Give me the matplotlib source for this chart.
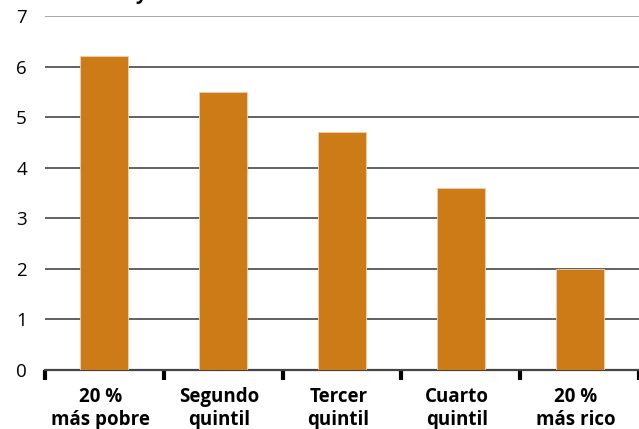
import matplotlib.pyplot as plt
import numpy as np

plt.rcParams['font.family'] = ['Open Sans', 'DejaVu Sans']

categories = ["20 %\nmás pobre", "Segundo\nquintil", "Tercer\nquintil",
              "Cuarto\nquintil", "20 %\nmás rico"]
values = [6.2, 5.5, 4.7, 3.6, 2.0]
yticks = [0, 1, 2, 3, 4, 5, 6, 7]

fig = plt.figure(figsize=(6.39, 4.29), dpi=100)
ax = fig.add_axes([0.0704, 0.1375, 0.9296, 0.8252])

x = np.arange(len(values))
ax.bar(x, values, width=0.405, color="#CC7B16", edgecolor="#F0D0B0",
       linewidth=0.6, zorder=3)

ax.set_xlim(-0.5, len(values) - 0.5)
ax.set_ylim(0, 7)

for yv in yticks[1:]:
    ax.axhline(yv, color="#A0A0A0" if yv == 7 else "#555555",
               linewidth=1.3, zorder=1)

for s in ["top", "right", "left"]:
    ax.spines[s].set_visible(False)
ax.spines["bottom"].set_color("#444444")
ax.spines["bottom"].set_linewidth(1.6)

# ticks sit on the category boundaries, labels under the bars
ax.set_xticks(np.arange(len(values) + 1) - 0.5)
ax.set_xticklabels([])
ax.tick_params(axis="x", which="major", direction="out", length=7, width=3,
               color="black")
ax.set_xticks(x - 0.03, minor=True)
ax.set_xticklabels(categories, minor=True, fontsize=13.5, fontweight="bold",
                   linespacing=1.2)
ax.tick_params(axis="x", which="minor", length=0, pad=12.5)

ax.set_yticks(yticks)
ax.set_yticklabels([str(v) for v in yticks], fontsize=13.5)
ax.tick_params(axis="y", length=0, pad=13)

# tail of the title that is cut off at the top of the picture
fig.text(135 / 639, 1 + 1 / 429, "y", fontsize=14, fontweight="bold",
         va="baseline")

fig.savefig("out.png", dpi=100)
